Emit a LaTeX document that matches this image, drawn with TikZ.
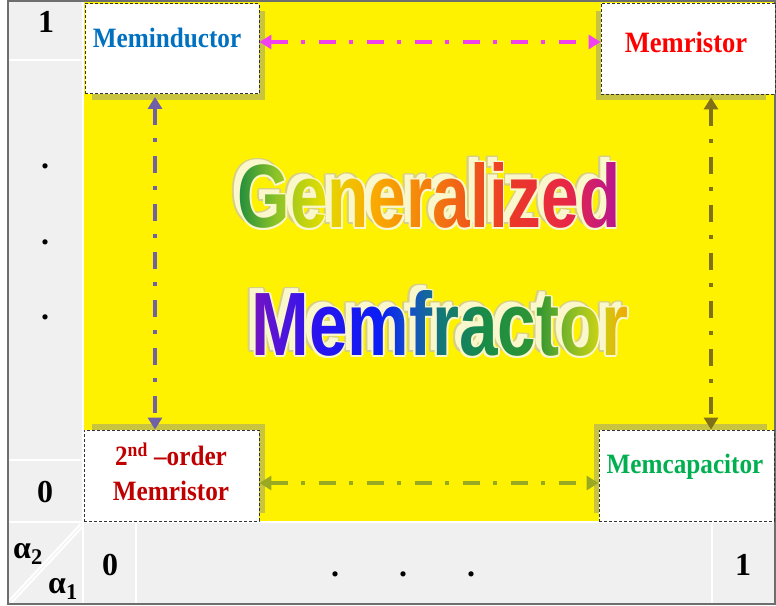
\documentclass[tikz,border=0pt]{standalone}
\usepackage{fontspec}
\setmainfont{Liberation Serif}
\newfontfamily\lblfont{Liberation Serif}[FakeStretch=0.9]
\newfontfamily\rbfont{Liberation Sans}
\usetikzlibrary{arrows.meta,fadings}

\definecolor{gridgray}{HTML}{F0F0F0}
\definecolor{bordergray}{HTML}{6E6E6E}
\definecolor{shadowol}{RGB}{200,196,64}
\definecolor{mindblue}{HTML}{0070C0}
\definecolor{mrred}{HTML}{FF0000}
\definecolor{darkred}{HTML}{C00000}
\definecolor{mcgreen}{HTML}{00B050}
\definecolor{pinkar}{RGB}{240,64,240}
\definecolor{purplear}{RGB}{112,96,168}
\definecolor{olivear}{RGB}{128,112,24}
\definecolor{greenar}{RGB}{153,170,34}
\definecolor{creamc}{RGB}{250,247,205}
\definecolor{khakic}{RGB}{215,208,130}

\definecolor{gA}{RGB}{30,140,60}
\definecolor{gB}{RGB}{140,195,40}
\definecolor{gC}{RGB}{225,220,0}
\definecolor{gD}{RGB}{250,175,0}
\definecolor{gE}{RGB}{245,140,10}
\definecolor{gF}{RGB}{240,90,25}
\definecolor{gG}{RGB}{235,55,40}
\definecolor{gH}{RGB}{232,40,70}
\definecolor{gI}{RGB}{180,20,150}

\definecolor{mA}{RGB}{120,20,190}
\definecolor{mB}{RGB}{80,20,220}
\definecolor{mC}{RGB}{40,20,240}
\definecolor{mD}{RGB}{10,30,245}
\definecolor{mE}{RGB}{20,80,200}
\definecolor{mF}{RGB}{20,120,120}
\definecolor{mG}{RGB}{25,140,70}
\definecolor{mH}{RGB}{50,150,50}
\definecolor{mI}{RGB}{130,185,40}
\definecolor{mJ}{RGB}{200,210,20}
\definecolor{mK}{RGB}{245,165,0}

\pgfdeclarehorizontalshading{genshade}{100bp}{color(0bp)=(gA); color(25bp)=(gA); color(30bp)=(gB); color(36bp)=(gC); color(42bp)=(gD); color(48bp)=(gE); color(55bp)=(gF); color(61bp)=(gG); color(68bp)=(gH); color(75bp)=(gI); color(100bp)=(gI)}
\pgfdeclarehorizontalshading{memshade}{100bp}{color(0bp)=(mA); color(25bp)=(mA); color(29bp)=(mB); color(34bp)=(mC); color(42bp)=(mD); color(46bp)=(mE); color(50bp)=(mF); color(56bp)=(mG); color(63bp)=(mH); color(67bp)=(mI); color(71bp)=(mJ); color(75bp)=(mK); color(100bp)=(mK)}

\newcommand{\bigfont}{\rbfont\bfseries\fontsize{90}{95}\selectfont}
\newcommand{\gentext}{\scalebox{0.75}[1]{Generalized}}
\newcommand{\memtext}{\scalebox{0.77}[1]{Memfractor}}
\newcommand{\ringtext}[1]{%
  \pgftext[at=\pgfpoint{1.8pt}{0pt}]{\color{white}\bigfont#1}%
  \pgftext[at=\pgfpoint{-1.8pt}{0pt}]{\color{white}\bigfont#1}%
  \pgftext[at=\pgfpoint{0pt}{1.8pt}]{\color{white}\bigfont#1}%
  \pgftext[at=\pgfpoint{0pt}{-1.8pt}]{\color{white}\bigfont#1}%
  \pgftext[at=\pgfpoint{1.3pt}{1.3pt}]{\color{white}\bigfont#1}%
  \pgftext[at=\pgfpoint{-1.3pt}{-1.3pt}]{\color{white}\bigfont#1}%
  \pgftext[at=\pgfpoint{1.3pt}{-1.3pt}]{\color{white}\bigfont#1}%
  \pgftext[at=\pgfpoint{-1.3pt}{1.3pt}]{\color{white}\bigfont#1}}

\pgfdeclarefading{genfade}{\pgfpicture\pgftext{\color{white}\bigfont\gentext}\endpgfpicture}
\pgfdeclarefading{memfade}{\pgfpicture\pgftext{\color{white}\bigfont\memtext}\endpgfpicture}
\pgfdeclarefading{genring}{\pgfpicture\ringtext{\gentext}\endpgfpicture}
\pgfdeclarefading{memring}{\pgfpicture\ringtext{\memtext}\endpgfpicture}

\tikzset{
  memboxstyle/.style={draw=black!80, dash pattern=on 3pt off 2pt, fill=white, line width=0.9pt,
    minimum width=174pt, minimum height=90pt, inner sep=0pt},
  lbl/.style={font=\lblfont\bfseries\fontsize{28}{35}\selectfont, inner sep=0pt},
  num/.style={font=\bfseries\fontsize{32}{34}\selectfont, inner sep=0pt},
  arr/.style={line width=4.2pt, dash pattern=on 17pt off 13pt on 4pt off 14pt,
    {Triangle[width=14pt,length=12pt]}-{Triangle[width=14pt,length=12pt]}},
  sep/.style={white, line width=2pt},
  bigtxt/.style={font=\bigfont, inner sep=0pt, anchor=base},
  bigbox/.style={},
}

\begin{document}
\begin{tikzpicture}[x=1pt, y=-1pt]
\useasboundingbox (0,0) rectangle (776,605);
% backgrounds
\fill[gridgray] (8,1) rectangle (775,604);
\fill[yellow] (84,1) rectangle (775,522);
% separators
\draw[sep] (83,1) -- (83,604);
\draw[sep] (8,60) -- (83,60);
\draw[sep] (8,460) -- (83,460);
\draw[sep] (8,522) -- (775,522);
\draw[sep] (136,522) -- (136,604);
\draw[sep] (712,522) -- (712,604);
\draw[white, line width=2.2pt, double=gridgray, double distance=0.8pt] (82,525) -- (10,602);
% border
\draw[bordergray, line width=2pt] (8,1) rectangle (775,604);

% shadows
\fill[shadowol] (92,11) rectangle (265,100);
\fill[shadowol] (596,11) rectangle (766,100);
\fill[shadowol] (92,424) rectangle (265,513);
\fill[shadowol] (594,424) rectangle (767,513);

% boxes
\node[memboxstyle] (mi) at (172,48.5) {};
\node[memboxstyle, minimum height=91pt] (mr) at (688,48.5) {};
\node[memboxstyle, minimum width=175pt, minimum height=91pt] (so) at (171.5,475.5) {};
\node[memboxstyle, minimum width=175pt, minimum height=91pt] (mc) at (686.5,475.5) {};

% box labels
\node[lbl, text=mindblue] (miT) at (167,38) {Meminductor};
\node[lbl, text=mrred, font=\lblfont\bfseries\fontsize{29.5}{35}\selectfont] (mrT) at (686,42) {Memristor};
\node[lbl, text=darkred, align=center] (soT) at (171,472) {2\textsuperscript{nd} –order\\Memristor};
\node[lbl, text=mcgreen] (mcT) at (685,467) {Memcapacitor};

% connectors
\draw[arr, pinkar] ([yshift=6.5pt]mi.east) -- ([yshift=6.5pt]mr.west);
\draw[arr, greenar] ([yshift=-7.5pt]so.east) -- ([yshift=-7.5pt]mc.west);
\draw[arr, purplear, shorten <=3pt] ([xshift=-17pt]mi.south) -- ([xshift=-17pt]mi.south |- so.north);
\draw[arr, olivear, shorten <=3pt] ([xshift=23pt]mr.south) -- ([xshift=23pt]mr.south |- mc.north);

% axis labels
\node[num] (n1) at (46,22) {1};
\node[num, anchor=base] (d1) at (45,168) {.};
\node[num, anchor=base] (d2) at (45,244) {.};
\node[num, anchor=base] (d3) at (45,319) {.};
\node[num] (n0) at (45,492) {0};
\node[num, anchor=base west] (a2) at (13,558) {α\textsubscript{2}};
\node[num, anchor=base west] (a1) at (48,593) {α\textsubscript{1}};
\node[num] (b0) at (110,565) {0};
\node[num, anchor=base] (e1) at (335,576) {.};
\node[num, anchor=base] (e2) at (403,576) {.};
\node[num, anchor=base] (e3) at (471,576) {.};
\node[num] (b1) at (743,565) {1};

% title: text node (cream), with offset shadow, outline ring and rainbow gradient
\node[bigtxt, text=creamc] (gen) at (429,227) {\gentext};
\node[bigtxt, text=creamc] (mem) at (440,355) {\memtext};
\fill[khakic, path fading=genring, fit fading=false, fading transform={shift={(gen.center)}, xshift=-6pt, yshift=5pt}]
  ([xshift=-14pt,yshift=-14pt]gen.south west) rectangle ([xshift=14pt,yshift=14pt]gen.north east);
\fill[khakic, path fading=memring, fit fading=false, fading transform={shift={(mem.center)}, xshift=-6pt, yshift=5pt}]
  ([xshift=-14pt,yshift=-14pt]mem.south west) rectangle ([xshift=14pt,yshift=14pt]mem.north east);
\fill[creamc, path fading=genfade, fit fading=false, fading transform={shift={(gen.center)}, xshift=-6pt, yshift=5pt}]
  ([xshift=-14pt,yshift=-14pt]gen.south west) rectangle ([xshift=14pt,yshift=14pt]gen.north east);
\fill[creamc, path fading=memfade, fit fading=false, fading transform={shift={(mem.center)}, xshift=-6pt, yshift=5pt}]
  ([xshift=-14pt,yshift=-14pt]mem.south west) rectangle ([xshift=14pt,yshift=14pt]mem.north east);
\fill[creamc, path fading=genring, fit fading=false, fading transform={shift={(gen.center)}}]
  ([xshift=-12pt,yshift=-12pt]gen.south west) rectangle ([xshift=12pt,yshift=12pt]gen.north east);
\fill[creamc, path fading=memring, fit fading=false, fading transform={shift={(mem.center)}}]
  ([xshift=-12pt,yshift=-12pt]mem.south west) rectangle ([xshift=12pt,yshift=12pt]mem.north east);
\path[shading=genshade, path fading=genfade, fit fading=false, fading transform={shift={(gen.center)}}]
  (gen.south west) rectangle (gen.north east);
\path[shading=memshade, path fading=memfade, fit fading=false, fading transform={shift={(mem.center)}}]
  (mem.south west) rectangle (mem.north east);
\end{tikzpicture}
\end{document}
